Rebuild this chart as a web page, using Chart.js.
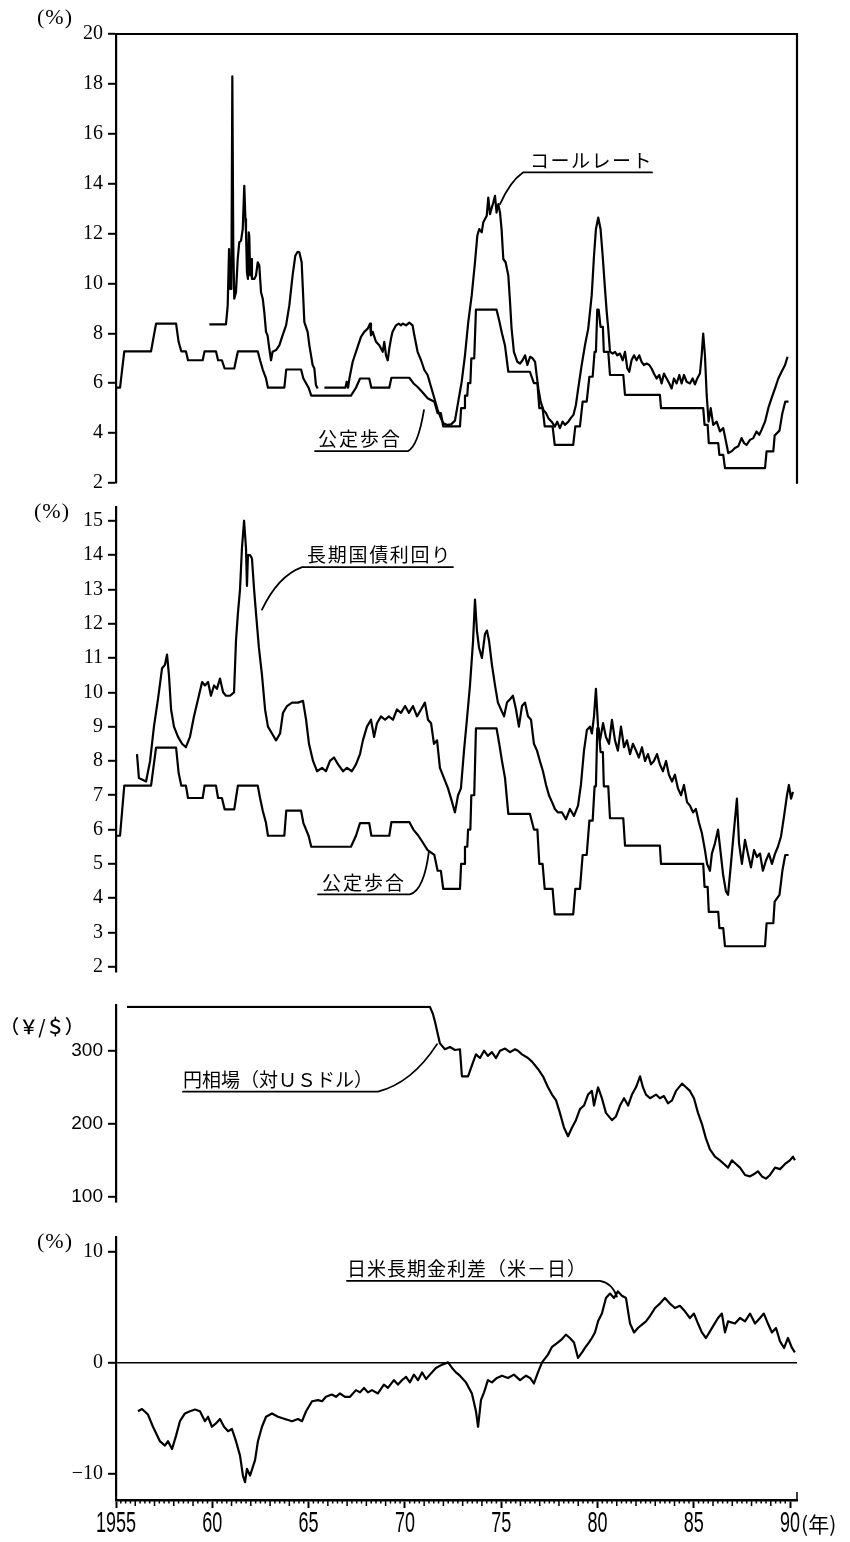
<!DOCTYPE html>
<html>
<head>
<meta charset="utf-8">
<title>金利・円相場・日米金利差</title>
<script src="https://cdn.jsdelivr.net/npm/chart.js@4/dist/chart.umd.min.js"></script>
<style>
  html, body { margin: 0; padding: 0; background: #fff; }
  body { position: relative; width: 850px; height: 1542px; overflow: hidden; }
  canvas { position: absolute; left: 0; }
</style>
</head>
<body>
<canvas id="p1" width="850" height="500" style="top:0px"></canvas>
<canvas id="p2" width="850" height="500" style="top:490px"></canvas>
<canvas id="p3" width="850" height="230" style="top:989px"></canvas>
<canvas id="p4" width="850" height="322" style="top:1220px"></canvas>
<script>
// ---- shared time axis (years) ----
const X_MIN = 1955, X_MAX = 1990.36;
const yearTicks  = [1955, 1960, 1965, 1970, 1975, 1980, 1985, 1990];
const yearLabels = ['1955', '60', '65', '70', '75', '80', '85', '90'];

// ---- 公定歩合 (%) ----
const discountYears = [1955.00, 1955.21, 1955.43, 1956.82, 1957.08, 1958.12, 1958.25, 1958.39, 1958.63, 1958.74,
  1959.50, 1959.60, 1960.19, 1960.30, 1960.50, 1960.64, 1961.14, 1961.23, 1961.33, 1962.36,
  1962.48, 1962.62, 1962.79, 1962.89, 1963.74, 1963.84, 1964.61, 1964.73, 1965.00, 1965.14,
  1967.20, 1967.46, 1967.67, 1968.15, 1968.26, 1969.19, 1969.30, 1970.23, 1970.44, 1970.66,
  1970.89, 1971.18, 1971.53, 1971.70, 1971.87, 1971.99, 1972.86, 1972.92, 1973.08, 1973.12,
  1973.24, 1973.28, 1973.40, 1973.45, 1973.60, 1973.69, 1974.76, 1974.90, 1975.04, 1975.20,
  1975.37, 1976.49, 1976.70, 1976.88, 1976.98, 1977.15, 1977.26, 1977.67, 1977.78, 1978.74,
  1978.85, 1979.09, 1979.23, 1979.44, 1979.58, 1979.75, 1979.85, 1979.92, 1979.99, 1980.06,
  1980.16, 1980.28, 1980.33, 1980.56, 1980.65, 1981.34, 1981.43, 1983.24, 1983.30, 1985.49,
  1985.56, 1985.72, 1985.78, 1986.27, 1986.33, 1986.53, 1986.62, 1988.70, 1988.78, 1989.13,
  1989.20, 1989.45, 1989.60, 1989.75, 1989.92];
const discountRate = [5.82, 5.82, 7.28, 7.28, 8.39, 8.39, 7.66, 7.28, 7.28, 6.92,
  6.92, 7.28, 7.28, 6.92, 6.92, 6.59, 6.59, 6.92, 7.28, 7.28,
  6.92, 6.55, 6.19, 5.82, 5.82, 6.55, 6.55, 6.19, 5.82, 5.50,
  5.50, 5.82, 6.19, 6.19, 5.82, 5.82, 6.22, 6.22, 6.00, 5.85,
  5.66, 5.40, 5.26, 4.80, 4.80, 4.27, 4.27, 5.00, 5.00, 5.50,
  5.50, 6.00, 6.00, 7.00, 7.00, 8.95, 8.95, 8.50, 8.00, 7.50,
  6.46, 6.46, 6.00, 6.00, 5.00, 5.00, 4.27, 4.27, 3.53, 3.53,
  4.27, 4.27, 5.26, 5.26, 6.26, 6.26, 7.26, 7.26, 8.95, 8.95,
  8.26, 8.26, 7.26, 7.26, 6.33, 6.33, 5.53, 5.53, 5.00, 5.00,
  4.33, 4.33, 3.60, 3.60, 3.13, 3.13, 2.60, 2.60, 3.27, 3.27,
  3.90, 4.10, 4.80, 5.26, 5.26];

// ---- コールレート (%) ; null = no quotation ----
const callYears = [1959.85, 1960.71, 1960.80, 1960.87, 1960.92, 1960.99, 1961.04, 1961.09, 1961.14, 1961.23,
  1961.32, 1961.40, 1961.49, 1961.58, 1961.66, 1961.72, 1961.75, 1961.80, 1961.85, 1961.89,
  1961.92, 1961.97, 1962.01, 1962.06, 1962.18, 1962.27, 1962.36, 1962.44, 1962.53, 1962.62,
  1962.70, 1962.79, 1962.87, 1962.96, 1963.05, 1963.13, 1963.31, 1963.48, 1963.65, 1963.83,
  1964.00, 1964.17, 1964.31, 1964.43, 1964.52, 1964.64, 1964.78, 1964.95, 1965.04, 1965.21,
  1965.30, 1965.38, 1965.47, 1965.65, 1965.82, 1966.91, 1966.98, 1967.05, 1967.12, 1967.29,
  1967.46, 1967.72, 1967.89, 1968.07, 1968.19, 1968.24, 1968.33, 1968.50, 1968.67, 1968.85,
  1968.93, 1969.02, 1969.11, 1969.19, 1969.28, 1969.36, 1969.54, 1969.68, 1969.80, 1969.88,
  1970.06, 1970.23, 1970.40, 1970.49, 1970.66, 1970.84, 1971.01, 1971.18, 1971.36, 1971.53,
  1971.70, 1971.87, 1972.00, 1972.20, 1972.40, 1972.60, 1972.77, 1972.95, 1973.12, 1973.29,
  1973.47, 1973.64, 1973.76, 1973.86, 1973.99, 1974.07, 1974.25, 1974.33, 1974.42, 1974.49,
  1974.59, 1974.68, 1974.76, 1974.85, 1974.94, 1975.02, 1975.11, 1975.23, 1975.37, 1975.46,
  1975.54, 1975.66, 1975.84, 1975.98, 1976.11, 1976.24, 1976.36, 1976.50, 1976.63, 1976.76,
  1976.84, 1976.93, 1977.05, 1977.19, 1977.33, 1977.45, 1977.62, 1977.79, 1977.91, 1978.05,
  1978.19, 1978.31, 1978.49, 1978.61, 1978.75, 1978.88, 1979.00, 1979.18, 1979.35, 1979.52,
  1979.70, 1979.82, 1979.92, 1980.04, 1980.16, 1980.27, 1980.39, 1980.48, 1980.56, 1980.65,
  1980.79, 1980.91, 1981.03, 1981.17, 1981.31, 1981.43, 1981.55, 1981.65, 1981.77, 1981.90,
  1982.03, 1982.17, 1982.29, 1982.41, 1982.55, 1982.69, 1982.81, 1982.93, 1983.07, 1983.21,
  1983.33, 1983.45, 1983.59, 1983.73, 1983.85, 1983.97, 1984.11, 1984.25, 1984.37, 1984.49,
  1984.63, 1984.80, 1984.94, 1985.06, 1985.18, 1985.32, 1985.41, 1985.49, 1985.58, 1985.67,
  1985.77, 1985.88, 1986.01, 1986.19, 1986.36, 1986.53, 1986.67, 1986.79, 1986.97, 1987.14,
  1987.31, 1987.48, 1987.61, 1987.74, 1987.92, 1988.09, 1988.26, 1988.40, 1988.52, 1988.70,
  1988.87, 1989.04, 1989.22, 1989.39, 1989.56, 1989.74, 1989.87];
const callRate = [8.36, 8.36, 9.12, 11.38, 9.78, 9.78, 18.30, 11.51, 9.39, 9.65,
  10.98, 11.65, 11.71, 12.18, 13.91, 12.58, 12.05, 10.45, 10.18, 12.05,
  11.91, 10.32, 10.98, 10.18, 10.18, 10.32, 10.85, 10.72, 9.65, 9.39,
  8.85, 8.06, 7.92, 7.39, 6.92, 7.26, 7.33, 7.52, 7.92, 8.32,
  9.12, 10.32, 11.11, 11.27, 11.25, 10.85, 8.45, 8.06, 7.52, 6.73,
  6.59, 5.93, 5.79, null, 5.82, 5.82, 6.06, 5.82, 6.19, 6.86,
  7.26, 7.86, 8.06, 8.19, 8.39, 7.92, 8.06, 7.66, 7.52, 7.26,
  7.66, 7.12, 6.92, 7.39, 7.79, 8.06, 8.32, 8.39, 8.32, 8.39,
  8.32, 8.43, 8.32, 7.92, 7.26, 6.92, 6.53, 6.33, 5.85, 5.40,
  4.93, 4.60, 4.40, 4.33, 4.35, 4.50, 5.26, 6.06, 7.12, 8.45,
  9.52, 10.85, 11.91, 12.18, 12.05, 12.45, 12.71, 13.44, 12.78, 12.98,
  13.24, 13.51, 12.84, 13.18, 12.84, 12.18, 10.98, 10.85, 10.32, 9.25,
  8.19, 7.26, 6.86, 6.79, 6.92, 7.12, 6.73, 7.06, 7.00, 6.86,
  6.33, 5.79, 5.26, 4.93, 4.80, 4.60, 4.46, 4.26, 4.46, 4.20,
  4.46, 4.33, 4.46, 4.60, 4.73, 5.13, 5.79, 6.73, 7.52, 8.19,
  9.52, 11.11, 12.18, 12.64, 12.18, 11.11, 9.78, 8.85, 8.19, 7.26,
  7.19, 7.26, 7.12, 7.19, 6.92, 7.26, 6.59, 6.46, 6.92, 7.12,
  6.92, 7.12, 6.86, 6.73, 6.79, 6.73, 6.59, 6.39, 6.19, 6.33,
  5.99, 6.39, 6.19, 5.99, 5.79, 6.19, 5.99, 6.33, 5.99, 6.33,
  6.06, 5.99, 6.19, 5.95, 6.19, 6.39, 7.12, 7.99, 7.12, 5.53,
  4.46, 5.00, 4.33, 4.46, 4.07, 4.20, 3.67, 3.20, 3.27, 3.40,
  3.47, 3.80, 3.60, 3.53, 3.73, 3.80, 4.07, 3.93, 4.13, 4.46,
  5.00, 5.40, 5.79, 6.19, 6.46, 6.73, 7.06];

// ---- 長期国債利回り (%) ----
const bondYears = [1956.09, 1956.19, 1956.56, 1956.77, 1956.97, 1957.18, 1957.39, 1957.54, 1957.65, 1957.75,
  1957.86, 1958.01, 1958.22, 1958.43, 1958.63, 1958.84, 1959.05, 1959.26, 1959.47, 1959.62,
  1959.78, 1959.93, 1960.09, 1960.24, 1960.40, 1960.56, 1960.71, 1960.92, 1961.13, 1961.23,
  1961.33, 1961.44, 1961.54, 1961.65, 1961.75, 1961.80, 1961.85, 1961.96, 1962.06, 1962.17,
  1962.27, 1962.42, 1962.58, 1962.74, 1962.89, 1963.10, 1963.31, 1963.52, 1963.67, 1963.88,
  1964.14, 1964.45, 1964.71, 1964.87, 1965.02, 1965.23, 1965.44, 1965.70, 1965.90, 1966.11,
  1966.32, 1966.53, 1966.79, 1966.99, 1967.25, 1967.46, 1967.67, 1967.82, 1968.03, 1968.24,
  1968.40, 1968.55, 1968.76, 1968.97, 1969.17, 1969.38, 1969.59, 1969.80, 1970.01, 1970.21,
  1970.42, 1970.63, 1970.84, 1971.04, 1971.20, 1971.36, 1971.51, 1971.67, 1971.82, 1972.03,
  1972.24, 1972.45, 1972.60, 1972.76, 1972.91, 1973.07, 1973.22, 1973.38, 1973.54, 1973.64,
  1973.74, 1973.85, 1974.00, 1974.16, 1974.26, 1974.37, 1974.52, 1974.68, 1974.83, 1974.99,
  1975.15, 1975.30, 1975.46, 1975.61, 1975.77, 1975.92, 1976.08, 1976.24, 1976.39, 1976.55,
  1976.70, 1976.86, 1977.01, 1977.17, 1977.33, 1977.48, 1977.64, 1977.79, 1977.95, 1978.16,
  1978.36, 1978.57, 1978.78, 1978.99, 1979.14, 1979.30, 1979.45, 1979.61, 1979.71, 1979.82,
  1979.92, 1980.03, 1980.13, 1980.29, 1980.44, 1980.60, 1980.75, 1980.91, 1981.06, 1981.22,
  1981.38, 1981.53, 1981.69, 1981.84, 1982.00, 1982.15, 1982.31, 1982.47, 1982.62, 1982.78,
  1982.93, 1983.09, 1983.24, 1983.40, 1983.56, 1983.71, 1983.87, 1984.02, 1984.18, 1984.34,
  1984.49, 1984.65, 1984.80, 1984.96, 1985.11, 1985.27, 1985.42, 1985.58, 1985.69, 1985.84,
  1985.94, 1986.10, 1986.26, 1986.36, 1986.52, 1986.67, 1986.78, 1986.93, 1987.09, 1987.24,
  1987.35, 1987.50, 1987.66, 1987.81, 1987.97, 1988.13, 1988.28, 1988.44, 1988.59, 1988.75,
  1988.90, 1989.06, 1989.22, 1989.37, 1989.53, 1989.69, 1989.84, 1989.94, 1990.05, 1990.15];
const bondYield = [8.2, 7.5, 7.4, 8.0, 9.0, 9.8, 10.7, 10.8, 11.1, 10.5,
  9.5, 9.0, 8.7, 8.5, 8.4, 8.7, 9.3, 9.8, 10.3, 10.2,
  10.3, 9.9, 10.2, 10.1, 10.4, 10.0, 9.9, 9.9, 10.0, 11.5,
  12.3, 13.0, 14.2, 15.0, 14.2, 13.1, 14.0, 14.0, 13.9, 13.0,
  12.3, 11.3, 10.5, 9.5, 9.0, 8.8, 8.6, 8.8, 9.4, 9.6,
  9.7, 9.7, 9.75, 9.2, 8.5, 8.0, 7.7, 7.8, 7.7, 8.0,
  8.1, 7.9, 7.7, 7.8, 7.7, 7.9, 8.2, 8.6, 9.0, 9.2,
  8.7, 9.1, 9.3, 9.2, 9.3, 9.2, 9.5, 9.4, 9.6, 9.4,
  9.6, 9.3, 9.5, 9.7, 9.2, 9.1, 8.5, 8.6, 7.8, 7.5,
  7.2, 6.8, 6.5, 7.0, 7.2, 8.3, 9.2, 10.2, 11.5, 12.7,
  11.8, 11.3, 11.0, 11.7, 11.8, 11.5, 10.8, 10.2, 9.7, 9.5,
  9.3, 9.7, 9.8, 9.9, 9.5, 9.0, 9.6, 9.7, 9.3, 9.2,
  8.5, 8.3, 8.0, 7.7, 7.3, 7.0, 6.8, 6.6, 6.5, 6.5,
  6.3, 6.6, 6.4, 6.7, 7.3, 8.3, 8.9, 9.0, 8.8, 9.3,
  10.1, 9.0, 8.6, 9.1, 8.7, 8.5, 9.2, 8.6, 8.3, 9.0,
  8.4, 8.6, 8.2, 8.5, 8.3, 8.1, 8.4, 8.0, 8.2, 7.9,
  8.0, 8.2, 7.9, 7.7, 8.0, 7.6, 7.4, 7.6, 7.2, 7.0,
  7.3, 6.8, 6.7, 6.5, 6.6, 6.2, 5.9, 5.4, 5.0, 4.8,
  5.3, 5.6, 6.0, 5.5, 4.7, 4.2, 4.1, 5.0, 6.0, 6.9,
  5.6, 5.0, 5.7, 5.3, 4.9, 5.4, 5.2, 5.3, 4.8, 5.1,
  5.3, 5.0, 5.3, 5.5, 5.8, 6.4, 7.0, 7.3, 6.9, 7.1];

// ---- 円相場（対USドル）(円/ドル) ----
const yenYears = [1955.57, 1971.30, 1971.46, 1971.56, 1971.82, 1972.08, 1972.34, 1972.60, 1972.86, 1972.96,
  1973.28, 1973.48, 1973.69, 1973.90, 1974.11, 1974.31, 1974.52, 1974.73, 1974.94, 1975.20,
  1975.46, 1975.72, 1975.87, 1976.08, 1976.39, 1976.60, 1976.91, 1977.17, 1977.43, 1977.64,
  1977.85, 1978.05, 1978.26, 1978.47, 1978.68, 1978.88, 1979.09, 1979.30, 1979.51, 1979.71,
  1979.82, 1980.03, 1980.23, 1980.44, 1980.75, 1980.96, 1981.17, 1981.38, 1981.59, 1981.79,
  1982.00, 1982.21, 1982.36, 1982.52, 1982.73, 1983.04, 1983.24, 1983.45, 1983.66, 1983.87,
  1984.08, 1984.39, 1984.60, 1984.80, 1985.01, 1985.22, 1985.42, 1985.63, 1985.84, 1986.10,
  1986.36, 1986.57, 1986.78, 1986.98, 1987.19, 1987.40, 1987.66, 1987.92, 1988.18, 1988.33,
  1988.54, 1988.75, 1988.96, 1989.22, 1989.48, 1989.74, 1989.99, 1990.15, 1990.25];
const yenRate = [360, 360, 350, 340, 310, 302, 305, 301, 302, 265,
  265, 280, 295, 290, 300, 293, 298, 290, 300, 303,
  298, 302, 300, 295, 290, 285, 275, 265, 250, 240,
  232, 215, 195, 183, 195, 205, 220, 225, 240, 245,
  225, 250, 235, 215, 205, 210, 225, 235, 225, 240,
  250, 265, 250, 240, 235, 240, 235, 238, 228, 232,
  245, 255, 250, 245, 235, 215, 200, 180, 165, 155,
  150, 145, 140, 150, 145, 140, 130, 128, 132, 135,
  128, 125, 130, 140, 138, 145, 150, 155, 150];

// ---- 日米長期金利差（米－日）(%) ----
const spreadYears = [1956.14, 1956.35, 1956.66, 1956.92, 1957.28, 1957.54, 1957.70, 1957.91, 1958.12, 1958.32,
  1958.58, 1958.84, 1959.10, 1959.36, 1959.62, 1959.78, 1959.98, 1960.19, 1960.40, 1960.61,
  1960.82, 1961.02, 1961.23, 1961.44, 1961.59, 1961.70, 1961.80, 1961.96, 1962.22, 1962.37,
  1962.58, 1962.79, 1963.10, 1963.41, 1963.77, 1964.14, 1964.45, 1964.66, 1964.87, 1965.18,
  1965.49, 1965.70, 1965.90, 1966.21, 1966.42, 1966.63, 1966.89, 1967.15, 1967.46, 1967.67,
  1967.88, 1968.08, 1968.29, 1968.60, 1968.91, 1969.12, 1969.43, 1969.64, 1969.85, 1970.06,
  1970.26, 1970.47, 1970.68, 1970.89, 1971.10, 1971.30, 1971.61, 1971.93, 1972.24, 1972.45,
  1972.65, 1972.86, 1973.17, 1973.48, 1973.69, 1973.80, 1973.95, 1974.11, 1974.31, 1974.52,
  1974.78, 1975.04, 1975.35, 1975.66, 1975.98, 1976.29, 1976.50, 1976.70, 1976.91, 1977.12,
  1977.43, 1977.64, 1977.95, 1978.16, 1978.36, 1978.57, 1978.78, 1978.99, 1979.20, 1979.35,
  1979.56, 1979.71, 1979.87, 1980.03, 1980.23, 1980.44, 1980.65, 1980.86, 1981.06, 1981.27,
  1981.48, 1981.69, 1981.90, 1982.10, 1982.31, 1982.52, 1982.73, 1982.99, 1983.24, 1983.50,
  1983.76, 1984.02, 1984.28, 1984.54, 1984.80, 1985.01, 1985.22, 1985.42, 1985.63, 1985.84,
  1986.05, 1986.26, 1986.46, 1986.62, 1986.78, 1987.14, 1987.40, 1987.66, 1987.92, 1988.18,
  1988.44, 1988.64, 1988.85, 1989.06, 1989.27, 1989.48, 1989.69, 1989.89, 1990.10, 1990.25];
const spreadRate = [-4.4, -4.2, -4.7, -5.8, -7.1, -7.5, -7.1, -7.8, -6.6, -5.3,
  -4.6, -4.4, -4.25, -4.4, -5.3, -4.9, -5.8, -5.5, -5.1, -5.8,
  -6.2, -6.0, -7.1, -8.4, -10.2, -10.8, -9.6, -10.2, -8.8, -7.1,
  -5.8, -4.9, -4.6, -4.9, -5.1, -5.3, -5.1, -5.3, -4.4, -3.5,
  -3.4, -3.5, -3.1, -2.9, -3.1, -2.8, -3.1, -3.1, -2.5, -2.7,
  -2.3, -2.7, -2.5, -2.8, -2.0, -2.3, -1.6, -2.0, -1.6, -1.3,
  -1.8, -1.1, -1.6, -0.9, -1.5, -1.1, -0.5, -0.2, 0.0, -0.5,
  -0.9, -1.2, -1.8, -2.8, -4.4, -5.8, -3.4, -2.7, -1.6, -1.8,
  -1.4, -1.2, -1.4, -1.1, -1.6, -1.2, -1.4, -1.9, -0.9, 0.0,
  0.7, 1.4, 1.8, 2.1, 2.5, 2.2, 1.8, 0.4, 0.9, 1.3,
  1.8, 2.2, 2.7, 3.7, 4.4, 5.8, 6.2, 5.8, 6.4, 6.0,
  5.8, 3.5, 2.7, 3.1, 3.4, 3.7, 4.2, 4.9, 5.3, 5.8,
  5.3, 4.9, 5.1, 4.6, 4.0, 4.4, 3.5, 2.7, 2.2, 2.8,
  3.4, 4.0, 4.4, 2.7, 3.7, 3.5, 4.0, 3.7, 4.4, 3.5,
  4.0, 4.4, 3.5, 2.7, 3.1, 1.9, 1.3, 2.2, 1.3, 0.9];

// ---- axis tick values ----
const ticksP1 = [2, 4, 6, 8, 10, 12, 14, 16, 18, 20];
const ticksP2 = [2, 3, 4, 5, 6, 7, 8, 9, 10, 11, 12, 13, 14, 15];
const ticksP3 = [100, 200, 300];
const ticksP4 = [-10, 0, 10];

// ---------------------------------------------------------------
const INK = '#000';
const CJK = '"Noto Sans CJK JP", "Noto Sans CJK SC", sans-serif';
const SERIF = '"Liberation Serif", "DejaVu Serif", serif';
const SANS = '"Liberation Sans", Arial, sans-serif';

function points(xs, ys) {
  const n = Math.min(xs.length, ys.length);
  const out = [];
  for (let i = 0; i < n; i++) out.push({ x: xs[i], y: ys[i] });
  return out;
}

function lineSet(data) {
  return {
    data, borderColor: INK, borderWidth: 2.2, pointRadius: 0,
    fill: false, tension: 0, spanGaps: false, borderJoinStyle: 'round'
  };
}

function hiddenX() {
  return { type: 'linear', min: X_MIN, max: X_MAX, display: false };
}

function yAxis(min, max, values, font, zeroLine) {
  return {
    type: 'linear', position: 'left', min, max,
    afterBuildTicks: s => { s.ticks = values.map(v => ({ value: v })); },
    afterFit: s => { s.width = 116; },
    grid: {
      drawOnChartArea: !!zeroLine, drawTicks: true, tickLength: 8, tickWidth: 2, tickColor: INK,
      lineWidth: 1.6,
      color: c => (zeroLine && c.tick && c.tick.value === 0) ? INK : 'rgba(0,0,0,0)'
    },
    border: { display: true, color: INK, width: 2.2 },
    ticks: {
      color: INK, font, padding: 5, autoSkip: false,
      callback: v => v < 0 ? '\u2212' + Math.abs(v) : String(v)
    }
  };
}

// frame edges, unit caption and labelled leader lines
const decor = {
  id: 'decor',
  afterDraw(chart, args, o) {
    const { ctx, chartArea: a, scales } = chart;
    const X = v => scales.x.getPixelForValue(v);
    const Y = v => scales.y.getPixelForValue(v);
    ctx.save();
    ctx.strokeStyle = INK; ctx.fillStyle = INK; ctx.lineCap = 'round';

    if (o.boxTopRight) {
      ctx.lineWidth = 2.2;
      ctx.beginPath();
      ctx.moveTo(a.left, a.top); ctx.lineTo(a.right, a.top); ctx.lineTo(a.right, a.bottom);
      ctx.stroke();
    }

    if (o.unit) {
      ctx.font = o.unit.font;
      ctx.textAlign = 'center'; ctx.textBaseline = 'middle';
      ctx.letterSpacing = (o.unit.spacing || 0) + 'px';
      ctx.fillText(o.unit.text, a.left + o.unit.dx, a.top + o.unit.dy);
      ctx.letterSpacing = '0px';
    }

    (o.callouts || []).forEach(c => {
      const x0 = X(c.from), x1 = X(c.to), y = Y(c.at);
      ctx.lineWidth = 1.8;
      ctx.beginPath();
      ctx.moveTo(x0, y); ctx.lineTo(x1, y);
      const sx = c.side === 'start' ? x0 : x1;
      ctx.moveTo(sx, y);
      ctx.quadraticCurveTo(X(c.ctrl[0]), Y(c.ctrl[1]), X(c.end[0]), Y(c.end[1]));
      ctx.stroke();
      ctx.font = '19px ' + CJK;
      ctx.textAlign = 'left'; ctx.textBaseline = 'middle';
      ctx.letterSpacing = (c.spacing || 0) + 'px';
      ctx.fillText(c.text, X(c.textAt), y - 12);
      ctx.letterSpacing = '0px';
    });
    ctx.restore();
  }
};

// time axis: quarter / year marks and condensed year labels
const timeAxis = {
  id: 'timeAxis',
  afterDraw(chart) {
    const { ctx, chartArea: a, scales: { x } } = chart;
    ctx.save();
    ctx.strokeStyle = INK; ctx.fillStyle = INK; ctx.lineWidth = 1.5;
    ctx.beginPath();
    for (let q = 1; q < 35 * 4; q++) {
      if (q % 20 === 0) continue;
      const px = x.getPixelForValue(X_MIN + q / 4);
      const len = q % 4 === 0 ? 6 : 3.5;
      ctx.moveTo(px, a.bottom); ctx.lineTo(px, a.bottom + len);
    }
    ctx.moveTo(a.right, a.bottom); ctx.lineTo(a.right, a.bottom - 8);
    ctx.stroke();

    ctx.font = '30px ' + SANS;
    ctx.textAlign = 'center'; ctx.textBaseline = 'middle';
    yearTicks.forEach((v, i) => {
      ctx.save();
      ctx.translate(x.getPixelForValue(v), a.bottom + 24);
      ctx.scale(0.6, 1);
      ctx.fillText(yearLabels[i], 0, 0);
      ctx.restore();
    });
    ctx.font = '21px ' + CJK;
    ctx.textAlign = 'left';
    ctx.fillText('(年)', x.getPixelForValue(1990) + 11, a.bottom + 24);
    ctx.restore();
  }
};

function baseOptions(padding, scales, decorOpts) {
  return {
    responsive: false, animation: false, events: [],
    layout: { padding },
    scales,
    plugins: { legend: { display: false }, tooltip: { enabled: false }, decor: decorOpts }
  };
}

const serifTicks = { family: SERIF, size: 20 };
const sansTicks = { family: SANS, size: 19 };
const unitPct = (dx, dy) => ({ text: '(%)', font: '22px ' + SERIF, dx, dy, spacing: 1 });

// Panel 1: コールレート / 公定歩合
new Chart(document.getElementById('p1'), {
  type: 'line',
  data: { datasets: [lineSet(points(discountYears, discountRate)), lineSet(points(callYears, callRate))] },
  options: baseOptions({ left: 0, right: 53, top: 34, bottom: 15 },
    { x: hiddenX(), y: yAxis(2, 20, ticksP1, serifTicks) },
    {
      boxTopRight: true,
      unit: unitPct(-61, -16),
      callouts: [
        { text: 'コールレート', from: 1976.13, to: 1982.83, at: 14.45, textAt: 1976.50, side: 'start',
          ctrl: [1975.46, 14.09], end: [1974.94, 13.18], spacing: 1.5 },
        { text: '公定歩合', from: 1965.33, to: 1970.16, at: 3.28, textAt: 1965.49, side: 'end',
          ctrl: [1970.68, 3.48], end: [1970.99, 4.92], spacing: 2 }
      ]
    }),
  plugins: [decor]
});

// Panel 2: 長期国債利回り / 公定歩合
new Chart(document.getElementById('p2'), {
  type: 'line',
  data: { datasets: [lineSet(points(discountYears, discountRate)), lineSet(points(bondYears, bondYield))] },
  options: baseOptions({ left: 0, right: 53, top: 12, bottom: 18 },
    { x: hiddenX(), y: yAxis(1.85, 15.4, ticksP2, serifTicks) },
    {
      unit: unitPct(-64, 5),
      callouts: [
        { text: '長期国債利回り', from: 1964.66, to: 1972.50, at: 13.65, textAt: 1964.92, side: 'start',
          ctrl: [1963.41, 13.39], end: [1962.58, 12.41], spacing: 1.7 },
        { text: '公定歩合', from: 1965.49, to: 1970.26, at: 4.11, textAt: 1965.70, side: 'end',
          ctrl: [1970.99, 4.22], end: [1971.25, 5.37], spacing: 2 }
      ]
    }),
  plugins: [decor]
});

// Panel 3: 円相場（対USドル）
new Chart(document.getElementById('p3'), {
  type: 'line',
  data: { datasets: [lineSet(points(yenYears, yenRate))] },
  options: baseOptions({ left: 0, right: 53, top: 12, bottom: 17 },
    { x: hiddenX(), y: yAxis(93, 362, ticksP3, sansTicks) },
    {
      unit: { text: '（￥/＄）', font: '500 19px ' + CJK, dx: -74, dy: 21 },
      callouts: [
        { text: '円相場（対ＵＳドル）', from: 1958.48, to: 1968.60, at: 244, textAt: 1958.48, side: 'end',
          ctrl: [1970.37, 256], end: [1971.67, 309] }
      ]
    }),
  plugins: [decor]
});

// Panel 4: 日米長期金利差（米－日）with the shared time axis
new Chart(document.getElementById('p4'), {
  type: 'line',
  data: { datasets: [lineSet(points(spreadYears, spreadRate))] },
  options: baseOptions({ left: 0, right: 53, top: 12, bottom: 0 },
    {
      x: {
        type: 'linear', position: 'bottom', min: X_MIN, max: X_MAX,
        afterBuildTicks: s => { s.ticks = yearTicks.map(v => ({ value: v })); },
        afterFit: s => { s.height = 42; },
        grid: { drawOnChartArea: false, drawTicks: true, tickLength: 8, tickWidth: 2, tickColor: INK },
        border: { display: true, color: INK, width: 2.5 },
        ticks: { display: false }
      },
      y: yAxis(-12.4, 11.3, ticksP4, serifTicks, true)
    },
    {
      unit: unitPct(-61, 5),
      callouts: [
        { text: '日米長期金利差（米－日）', from: 1966.99, to: 1980.13, at: 7.35, textAt: 1966.99, side: 'end',
          ctrl: [1980.75, 7.17], end: [1981.01, 5.93], spacing: 1 }
      ]
    }),
  plugins: [decor, timeAxis]
});
</script>
</body>
</html>
